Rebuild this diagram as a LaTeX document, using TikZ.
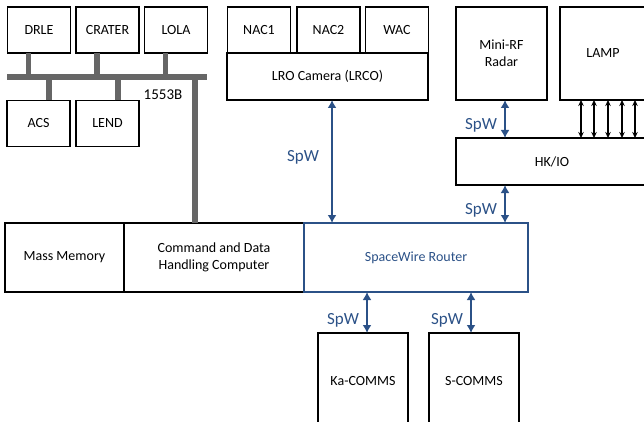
\documentclass[tikz,border=0pt]{standalone}
\usepackage{fontspec}
\setmainfont{Carlito}
\usetikzlibrary{arrows.meta,positioning}
\definecolor{spwblue}{HTML}{2B5187}
\definecolor{busgrey}{HTML}{666666}
\tikzset{
    box/.style={rectangle,draw,line width=1.5pt,inner sep=0pt,outer sep=0pt,align=center,font=\fontsize{14}{17}\selectfont},
    instr/.style={box,minimum width=63pt,minimum height=46pt},
    spw/.style={{Latex[length=8pt,width=9pt]}-{Latex[length=8pt,width=9pt]},line width=2.5pt,draw=spwblue},
    sig/.style={{Stealth[length=6pt,width=5.5pt]}-{Stealth[length=6pt,width=5.5pt]},line width=1.1pt},
    bus/.style={line width=5.5pt,draw=busgrey},
    spwlabel/.style={text=spwblue,font=\fontsize{17}{19}\selectfont,inner sep=0pt}
}

\begin{document}
\begin{tikzpicture}[x=1pt,y=-1pt]

                \useasboundingbox (0,0) rectangle (644,422);

                % 1553B instruments
                \node[instr] (drle)   at (39,30)      {DRLE};
                \node[instr] (crater) at (107.5,30)   {CRATER};
                \node[instr] (lola)   at (176,30)     {LOLA};
                \node[instr] (acs)    at (38.5,123.5) {ACS};
                \node[instr] (lend)   at (107.5,123.5) {LEND};

                % camera
                \node[instr] (nac 1) at (259,30)   {NAC1};
                \node[instr] (nac 2) at (328.5,30) {NAC2};
                \node[instr] (wac)   at (397,30)   {WAC};
                \node[box,minimum width=201pt,minimum height=47pt] (lrco) at (327.5,76.5) {LRO Camera (LRCO)};

                \node[box,minimum width=91pt,minimum height=93pt] (minirf) at (501.5,53.5) {Mini-RF\\Radar};
                \node[box,minimum width=86pt,minimum height=93pt] (lamp)   at (603,53.5)   {LAMP};
                \node[box,minimum width=192pt,minimum height=47pt] (hkio)  at (552,161.5)  {HK/IO};

                % avionics row
                \node[box,minimum width=119pt,minimum height=69pt] (mass memory) at (64.5,257.5) {Mass Memory};
                \node[box,minimum width=180pt,minimum height=69pt] (cdh) [right=0pt of mass memory] {Command and Data\\Handling Computer};
                \node[box,minimum width=224pt,minimum height=69pt,draw=spwblue,text=spwblue] (router) [right=0pt of cdh] {SpaceWire Router};

                \node[box,minimum width=90pt,minimum height=97pt] (ka comms) at (363,381.5) {Ka-COMMS};
                \node[box,minimum width=90pt,minimum height=97pt] (s comms)  at (474,381.5) {S-COMMS};

                % bus
                \coordinate (bus west) at (7,77);
                \coordinate (bus east) at (207,77);
                \coordinate (bus drop) at (195,77);
                \draw[bus] (bus west) -- (bus east);
                \foreach \n in {drle,crater,lola}
                    \draw[bus] ([xshift=-10.5pt]\n.south) -- ([xshift=-10.5pt]\n.south |- bus west);
                \foreach \n in {acs,lend}
                    \draw[bus] ([xshift=10.5pt]\n.north) -- ([xshift=10.5pt]\n.north |- bus west);
                \draw[bus] (bus drop) -- (bus drop |- cdh.north);
                \node[font=\fontsize{15}{17}\selectfont,inner sep=0pt] (bus label) at (163,95) {1553B};

                % spacewire links
                \draw[spw] ([xshift=4.5pt]lrco.south) -- ([xshift=4.5pt]lrco.south |- router.north);
                \draw[spw] ([xshift=3.5pt]minirf.south) -- ([xshift=3.5pt]minirf.south |- hkio.north);
                \draw[spw] ([xshift=3.5pt]minirf.south |- hkio.south) -- ([xshift=3.5pt]minirf.south |- router.north);
                \draw[spw] ([xshift=4pt]ka comms.north |- router.south) -- ([xshift=4pt]ka comms.north);
                \draw[spw] ([xshift=-3pt]s comms.north |- router.south) -- ([xshift=-3pt]s comms.north);

                \node[spwlabel] (spw cam)  at (303,157) {SpW};
                \node[spwlabel] (spw rf)   at (481,125) {SpW};
                \node[spwlabel] (spw hk)   at (481,210) {SpW};
                \node[spwlabel] (spw ka)   at (343,320) {SpW};
                \node[spwlabel] (spw s)    at (447,320) {SpW};

                % LAMP signals
                \foreach \x in {581,594,608,622,635}
                    \draw[sig] (lamp.south -| \x,0) -- (hkio.north -| \x,0);

            \end{tikzpicture}
\end{document}
